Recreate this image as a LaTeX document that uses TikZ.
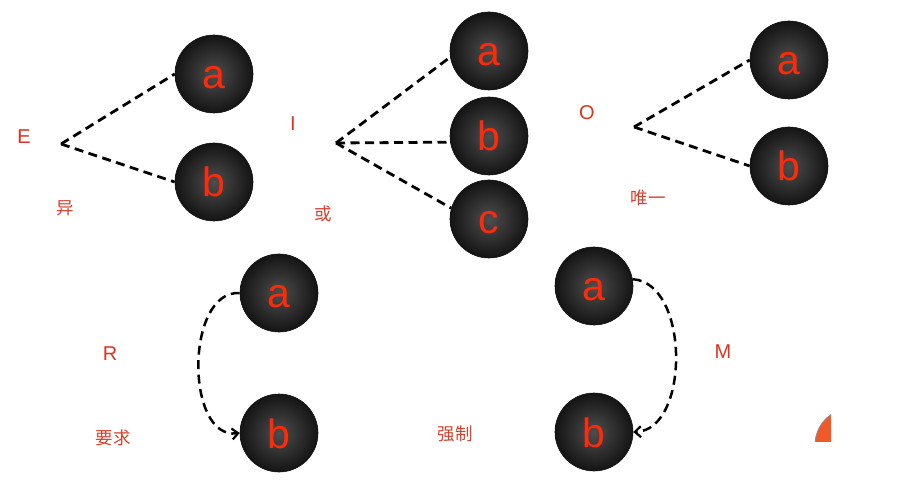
\documentclass[tikz,border=0pt]{standalone}
\usepackage{fontspec}
\setmainfont{Liberation Sans}
\newfontfamily\cjk{Noto Sans CJK SC}
\usetikzlibrary{arrows.meta}
\definecolor{ballfill}{HTML}{2E2E2E}
\definecolor{balledge}{HTML}{141414}
\definecolor{lettred}{HTML}{FF2A0A}
\definecolor{labred}{HTML}{E0321E}
\definecolor{cjkred}{HTML}{D8412E}
\definecolor{wedge}{HTML}{F05A28}
\tikzset{
  ball/.style={circle, minimum size=78pt, inner sep=0pt, shading=radial,
    inner color=ballfill!85!white, outer color=balledge, draw=balledge, line width=0.6pt,
    text=lettred, font=\fontsize{41}{41}\selectfont, text height=30pt, text depth=0pt},
  rel/.style={dash pattern=on 9pt off 5.5pt, line width=2.8pt, black},
  relcurve/.style={rel, line width=2.5pt, -{Straight Barb[length=6pt,width=11pt,line width=2.2pt]}},
  biglab/.style={text=labred, font=\fontsize{20}{20}\selectfont},
  cnlab/.style={text=cjkred, font=\cjk\fontsize{17.5}{17.5}\selectfont},
}
\begin{document}
\begin{tikzpicture}[x=1pt,y=-1pt]
\useasboundingbox (0,0) rectangle (911,489);
\fill[white] (0,0) rectangle (911,489);
% E group
\coordinate (hE) at (61,144);
\node[ball] (Ea) at (214,74) {a};
\node[ball] (Eb) at (214,182) {b};
\node[biglab] (lE) at (24,137) {E};
\node[cnlab] (cE) at (65,208) {异};
\draw[rel] (hE) -- (Ea.west);
\draw[rel] (hE) -- (Eb.west);
% I group
\coordinate (hI) at (336,143);
\node[ball] (Ia) at (489,51) {a};
\node[ball] (Ib) at (489,136) {b};
\node[ball] (Ic) at (489,219) {c};
\node[biglab] (lI) at (293,124) {I};
\node[cnlab] (cI) at (323,214) {或};
\draw[rel] (hI) -- (Ia.189);
\draw[rel] (hI) -- (Ib.189);
\draw[rel] (hI) -- (Ic.164);
% O group
\coordinate (hO) at (634,127);
\node[ball] (Oa) at (789,60) {a};
\node[ball] (Ob) at (789,166) {b};
\node[biglab] (lO) at (587,113) {O};
\node[cnlab] (cO) at (648,198) {唯一};
\draw[rel] (hO) -- (Oa.west);
\draw[rel] (hO) -- (Ob.west);
% R group
\node[ball] (Ra) at (279,293) {a};
\node[ball] (Rb) at (279,433) {b};
\node[biglab] (lR) at (110,354) {R};
\node[cnlab] (cR) at (113,438) {要求};
\draw[relcurve] (Ra.west) .. controls (185,290) and (185,440) .. (Rb.west);
% M group
\node[ball] (Ma) at (594,286) {a};
\node[ball] (Mb) at (594,432) {b};
\node[biglab] (lM) at (723,352) {M};
\node[cnlab] (cM) at (455,434) {强制};
\draw[relcurve] (Ma.10) .. controls (690,283) and (690,430) .. (Mb.east);
% cropped wedge at the right edge
\begin{scope}
\clip (800,400) rectangle (831,441);
\fill[wedge, draw=black!45, line width=0.8pt] (852,445) circle (37);
\end{scope}
\end{tikzpicture}
\end{document}
